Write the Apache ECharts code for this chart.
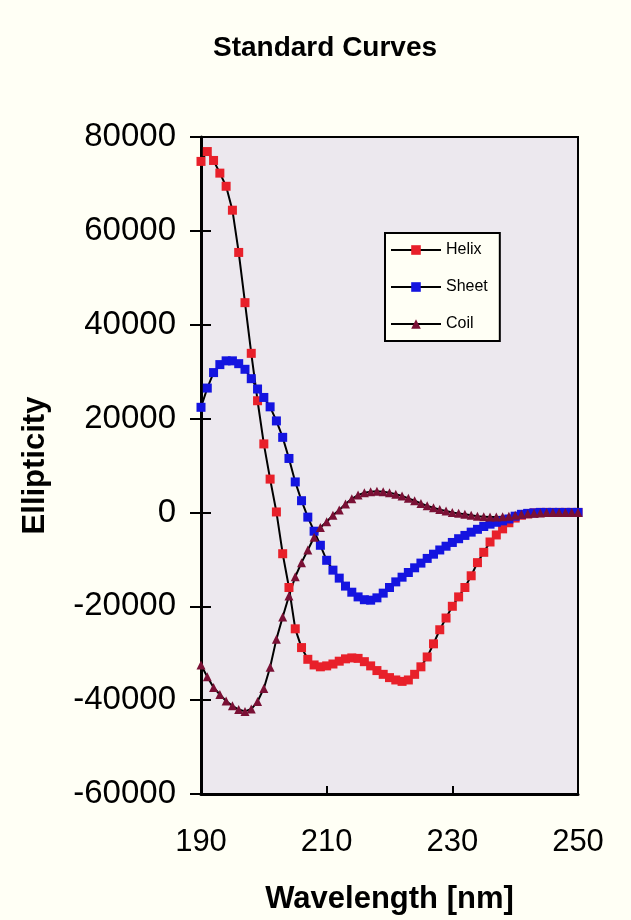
<!DOCTYPE html>
<html>
<head>
<meta charset="utf-8">
<title>Standard Curves</title>
<script src="https://cdn.jsdelivr.net/npm/echarts@6/dist/echarts.min.js"></script>
<style>
  html, body { margin: 0; padding: 0; background: #fffff5; }
  #chart { width: 631px; height: 920px; }
</style>
</head>
<body>
<div id="chart"></div>
<script>
// CD standard curves: ellipticity vs wavelength, 1 nm steps from 190 to 250 nm.

const WAVELENGTHS = [
  190, 191, 192, 193, 194, 195, 196, 197, 198, 199,
  200, 201, 202, 203, 204, 205, 206, 207, 208, 209,
  210, 211, 212, 213, 214, 215, 216, 217, 218, 219,
  220, 221, 222, 223, 224, 225, 226, 227, 228, 229,
  230, 231, 232, 233, 234, 235, 236, 237, 238, 239,
  240, 241, 242, 243, 244, 245, 246, 247, 248, 249, 250
];

const HELIX = [
  74800, 76900, 75000, 72300, 69500, 64400, 55400, 44700, 33900, 23800,
  14600, 7100, 100, -8800, -16000, -24800, -28800, -31300, -32500, -32900,
  -32700, -32300, -31700, -31200, -31000, -31100, -31800, -32700, -33700, -34500,
  -35200, -35700, -36000, -35700, -34500, -32900, -30800, -28000, -25000, -22500,
  -20000, -18000, -16000, -13500, -10700, -8500, -6300, -4800, -3500, -2200,
  -1200, -600, -300, -100, 0, 0, 0, 0, 0, 0, 0
];

const SHEET = [
  22400, 26500, 29800, 31500, 32300, 32300, 31700, 30500, 28500, 26300,
  24500, 22500, 19500, 16000, 11500, 6500, 2500, -1000, -4000, -7000,
  -10200, -12300, -14000, -15700, -17000, -18000, -18600, -18700, -18200, -17200,
  -16000, -14800, -13800, -12800, -11800, -10800, -9800, -8900, -8000, -7200,
  -6400, -5600, -4900, -4200, -3600, -3000, -2500, -2100, -1800, -1400,
  -800, -400, -200, -100, 0, 0, 0, 0, 0, 0, 0
];

const COIL = [
  -32500, -35000, -37300, -38800, -40200, -41200, -42000, -42400, -41900, -40300,
  -37500, -33000, -27000, -22300, -17800, -13700, -10700, -8000, -5300, -3200,
  -2000, -600, 500, 1800, 2900, 3700, 4200, 4400, 4500, 4400,
  4200, 3900, 3500, 3000, 2500, 1900, 1400, 1000, 600, 300,
  0, -200, -400, -600, -800, -900, -1000, -1000, -900, -800,
  -600, -400, -300, -200, -100, 0, 0, 0, 0, 0, 0
];

const Y_MIN = -60000;
const Y_MAX = 80000;
const Y_STEP = 20000;

(function () {
  const el = document.getElementById('chart');
  const chart = echarts.init(el, null, { renderer: 'canvas' });

  const FONT = "'Liberation Sans', Arial, sans-serif";

  const lineSeries = (name, data, symbol, size, color) => ({
    name,
    type: 'line',
    data,
    symbol,
    symbolSize: size,
    showAllSymbol: true,
    lineStyle: { color: '#000', width: 2 },
    itemStyle: { color },
    emphasis: { disabled: true },
    animation: false,
  });

  const yAxisBase = {
    type: 'value',
    min: Y_MIN,
    max: Y_MAX,
    interval: Y_STEP,
    position: 'left',
    splitLine: { show: false },
  };

  chart.setOption({
    backgroundColor: '#fffff5',
    animation: false,
    title: {
      text: 'Standard Curves',
      left: 208,
      top: 29,
      textStyle: { fontFamily: FONT, fontSize: 28, fontWeight: 'bold', color: '#000' },
    },
    grid: {
      left: 201,
      right: 53,
      top: 137,
      bottom: 124,
      show: true,
      backgroundColor: '#ece8ee',
      borderColor: '#000',
      borderWidth: 2,
    },
    legend: {
      orient: 'vertical',
      left: 385,
      top: 233,
      padding: [9, 12, 9, 5],
      itemWidth: 50,
      itemHeight: 12,
      itemGap: 21,
      backgroundColor: '#fffff5',
      borderColor: '#000',
      borderWidth: 2,
      textStyle: { fontFamily: FONT, fontSize: 16, color: '#000' },
      data: ['Helix', 'Sheet', 'Coil'],
    },
    xAxis: {
      type: 'category',
      data: WAVELENGTHS,
      boundaryGap: false,
      name: 'Wavelength [nm]',
      nameLocation: 'middle',
      nameGap: 90,
      nameTextStyle: { fontFamily: FONT, fontSize: 31, fontWeight: 'bold', color: '#000' },
      axisLine: { onZero: false, lineStyle: { color: '#000', width: 3 } },
      axisTick: { inside: true, length: 8, interval: 19, alignWithLabel: true, lineStyle: { color: '#000', width: 2 } },
      axisLabel: { interval: 19, margin: 33, fontFamily: FONT, fontSize: 31, color: '#000' },
      splitLine: { show: false },
    },
    yAxis: [
      Object.assign({}, yAxisBase, {
        name: 'Ellipticity',
        nameLocation: 'middle',
        nameGap: 150,
        nameTextStyle: { fontFamily: FONT, fontSize: 31, fontWeight: 'bold', color: '#000' },
        axisLine: { show: true, onZero: false, lineStyle: { color: '#000', width: 3 } },
        axisTick: { show: true, length: 11, lineStyle: { color: '#000', width: 2 } },
        axisLabel: {
          margin: 25, fontFamily: FONT, fontSize: 33, color: '#000',
          formatter: (v) => String(v),
        },
      }),
      // second axis only draws the inner half of the crossing ticks
      Object.assign({}, yAxisBase, {
        axisLine: { show: false, onZero: false },
        axisTick: { show: true, inside: true, length: 10, lineStyle: { color: '#000', width: 2 } },
        axisLabel: { show: false },
      }),
    ],
    series: [
      lineSeries('Helix', HELIX, 'rect', 9, '#e8202a'),
      lineSeries('Sheet', SHEET, 'rect', 9, '#1414e0'),
      lineSeries('Coil', COIL, 'triangle', 9, '#7a1035'),
    ],
  });

  window.addEventListener('resize', () => chart.resize());
})();
</script>
</body>
</html>
